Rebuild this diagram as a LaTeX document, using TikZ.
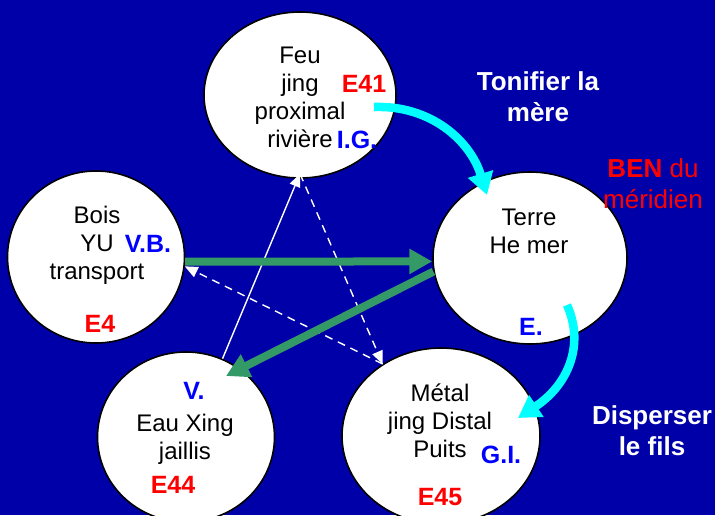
\documentclass[tikz,border=0pt]{standalone}
\usepackage{fontspec}
\setmainfont{Liberation Sans}
\usetikzlibrary{shapes.geometric,arrows.meta,calc}
\definecolor{fond}{RGB}{0,0,168}
\definecolor{vertfleche}{RGB}{51,153,102}
\definecolor{cyanvif}{RGB}{0,255,255}
\definecolor{rouge}{RGB}{255,0,0}
\definecolor{bleu}{RGB}{0,0,255}
\begin{document}
\begin{tikzpicture}[x=1pt,y=-1pt,
	cercle/.style = {ellipse,draw=black,line width=1.6pt,fill=white,inner sep=0pt},
	txt/.style = {font=\fontsize{24}{27.7}\selectfont,align=center,anchor=base,inner sep=0pt},
	code/.style = {font=\fontsize{25}{28}\selectfont\bfseries,anchor=base,inner sep=0pt},
	note/.style = {font=\fontsize{26}{31}\selectfont\bfseries,text=white,align=center,anchor=base,inner sep=0pt},
	vert/.style = {draw=vertfleche,line width=8pt,-{Triangle[length=23pt,width=24pt]}},
	cyan fleche/.style = {draw=cyanvif,line width=8.5pt,-{Triangle[length=22pt,width=25pt]}},
	blanc/.style = {draw=white,line width=1.4pt,-{Triangle[length=13pt,width=11pt]}},
	tirets/.style = {dash pattern=on 8pt off 6pt}]

	\useasboundingbox (0,0) rectangle (715,515);
	\fill[fond] (0,0) rectangle (715,515);

	% les cinq elements
	\node[cercle,minimum width=192pt,minimum height=166pt] (feu) at (300,95) {};
	\node[cercle,minimum width=177pt,minimum height=172pt] (bois) at (96,257) {};
	\node[cercle,minimum width=194pt,minimum height=172pt] (terre) at (530,258) {};
	\node[cercle,minimum width=177pt,minimum height=170pt] (eau) at (186,437) {};
	\node[cercle,minimum width=198pt,minimum height=176pt] (metal) at (441,436) {};

	% textes (ancre sur la derniere ligne)
	\node[txt] (tfeu) at (300,147) {Feu\\jing\\proximal\\rivière};
	\node[code,text=rouge] (e41) at (364,92) {E41};
	\node[code,text=bleu] (ig) at (357,148) {I.G.};

	\node[txt] (tbois) at (97,279) {Bois\\YU\\transport};
	\node[code,text=bleu] (vb) at (148,252) {V.B.};
	\node[code,text=rouge] (e4) at (100,332) {E4};

	\node[txt] (tterre) at (529,253) {Terre\\He mer};
	\node[code,text=bleu] (e) at (531,335) {E.};

	\node[txt] (teau) at (185,459) {Eau Xing\\jaillis};
	\node[code,text=bleu] (v) at (194,399) {V.};
	\node[code,text=rouge] (e44) at (173,493) {E44};

	\node[txt] (tmetal) at (440,457) {Métal\\jing Distal\\Puits};
	\node[code,text=bleu] (gi) at (501,463) {G.I.};
	\node[code,text=rouge] (e45) at (440,505) {E45};

	\node[note] (tonifier) at (538,121) {Tonifier la\\mère};
	\node[note] (disperser) at (652,455) {Disperser\\le fils};
	\node[note,text=rouge] (ben) at (653,208) {BEN \mdseries du\\\mdseries méridien};

	% cycle de controle
	\coordinate (feubas) at ([yshift=5pt]feu.south);
	\draw[blanc] (eau.65) -- (feubas);
	\draw[blanc,tirets] (feubas) -- (metal.129);
	\draw[blanc,tirets] (metal.129) -- (bois.-6);

	% cycle d'engendrement
	\draw[vert] (bois.-3) -- (terre.182);
	\draw[vert] (terre.188) -- ($(eau)+(40,-61)$);

	\draw[cyan fleche] ($(feu)+(74,12)$) .. controls (430,105) and (470,140) .. ($(terre)+(-43,-63)$);
	\draw[cyan fleche] ($(terre)+(37,47)$) .. controls (585,345) and (568,385) .. ($(metal)+(77,-18)$);

\end{tikzpicture}
\end{document}
